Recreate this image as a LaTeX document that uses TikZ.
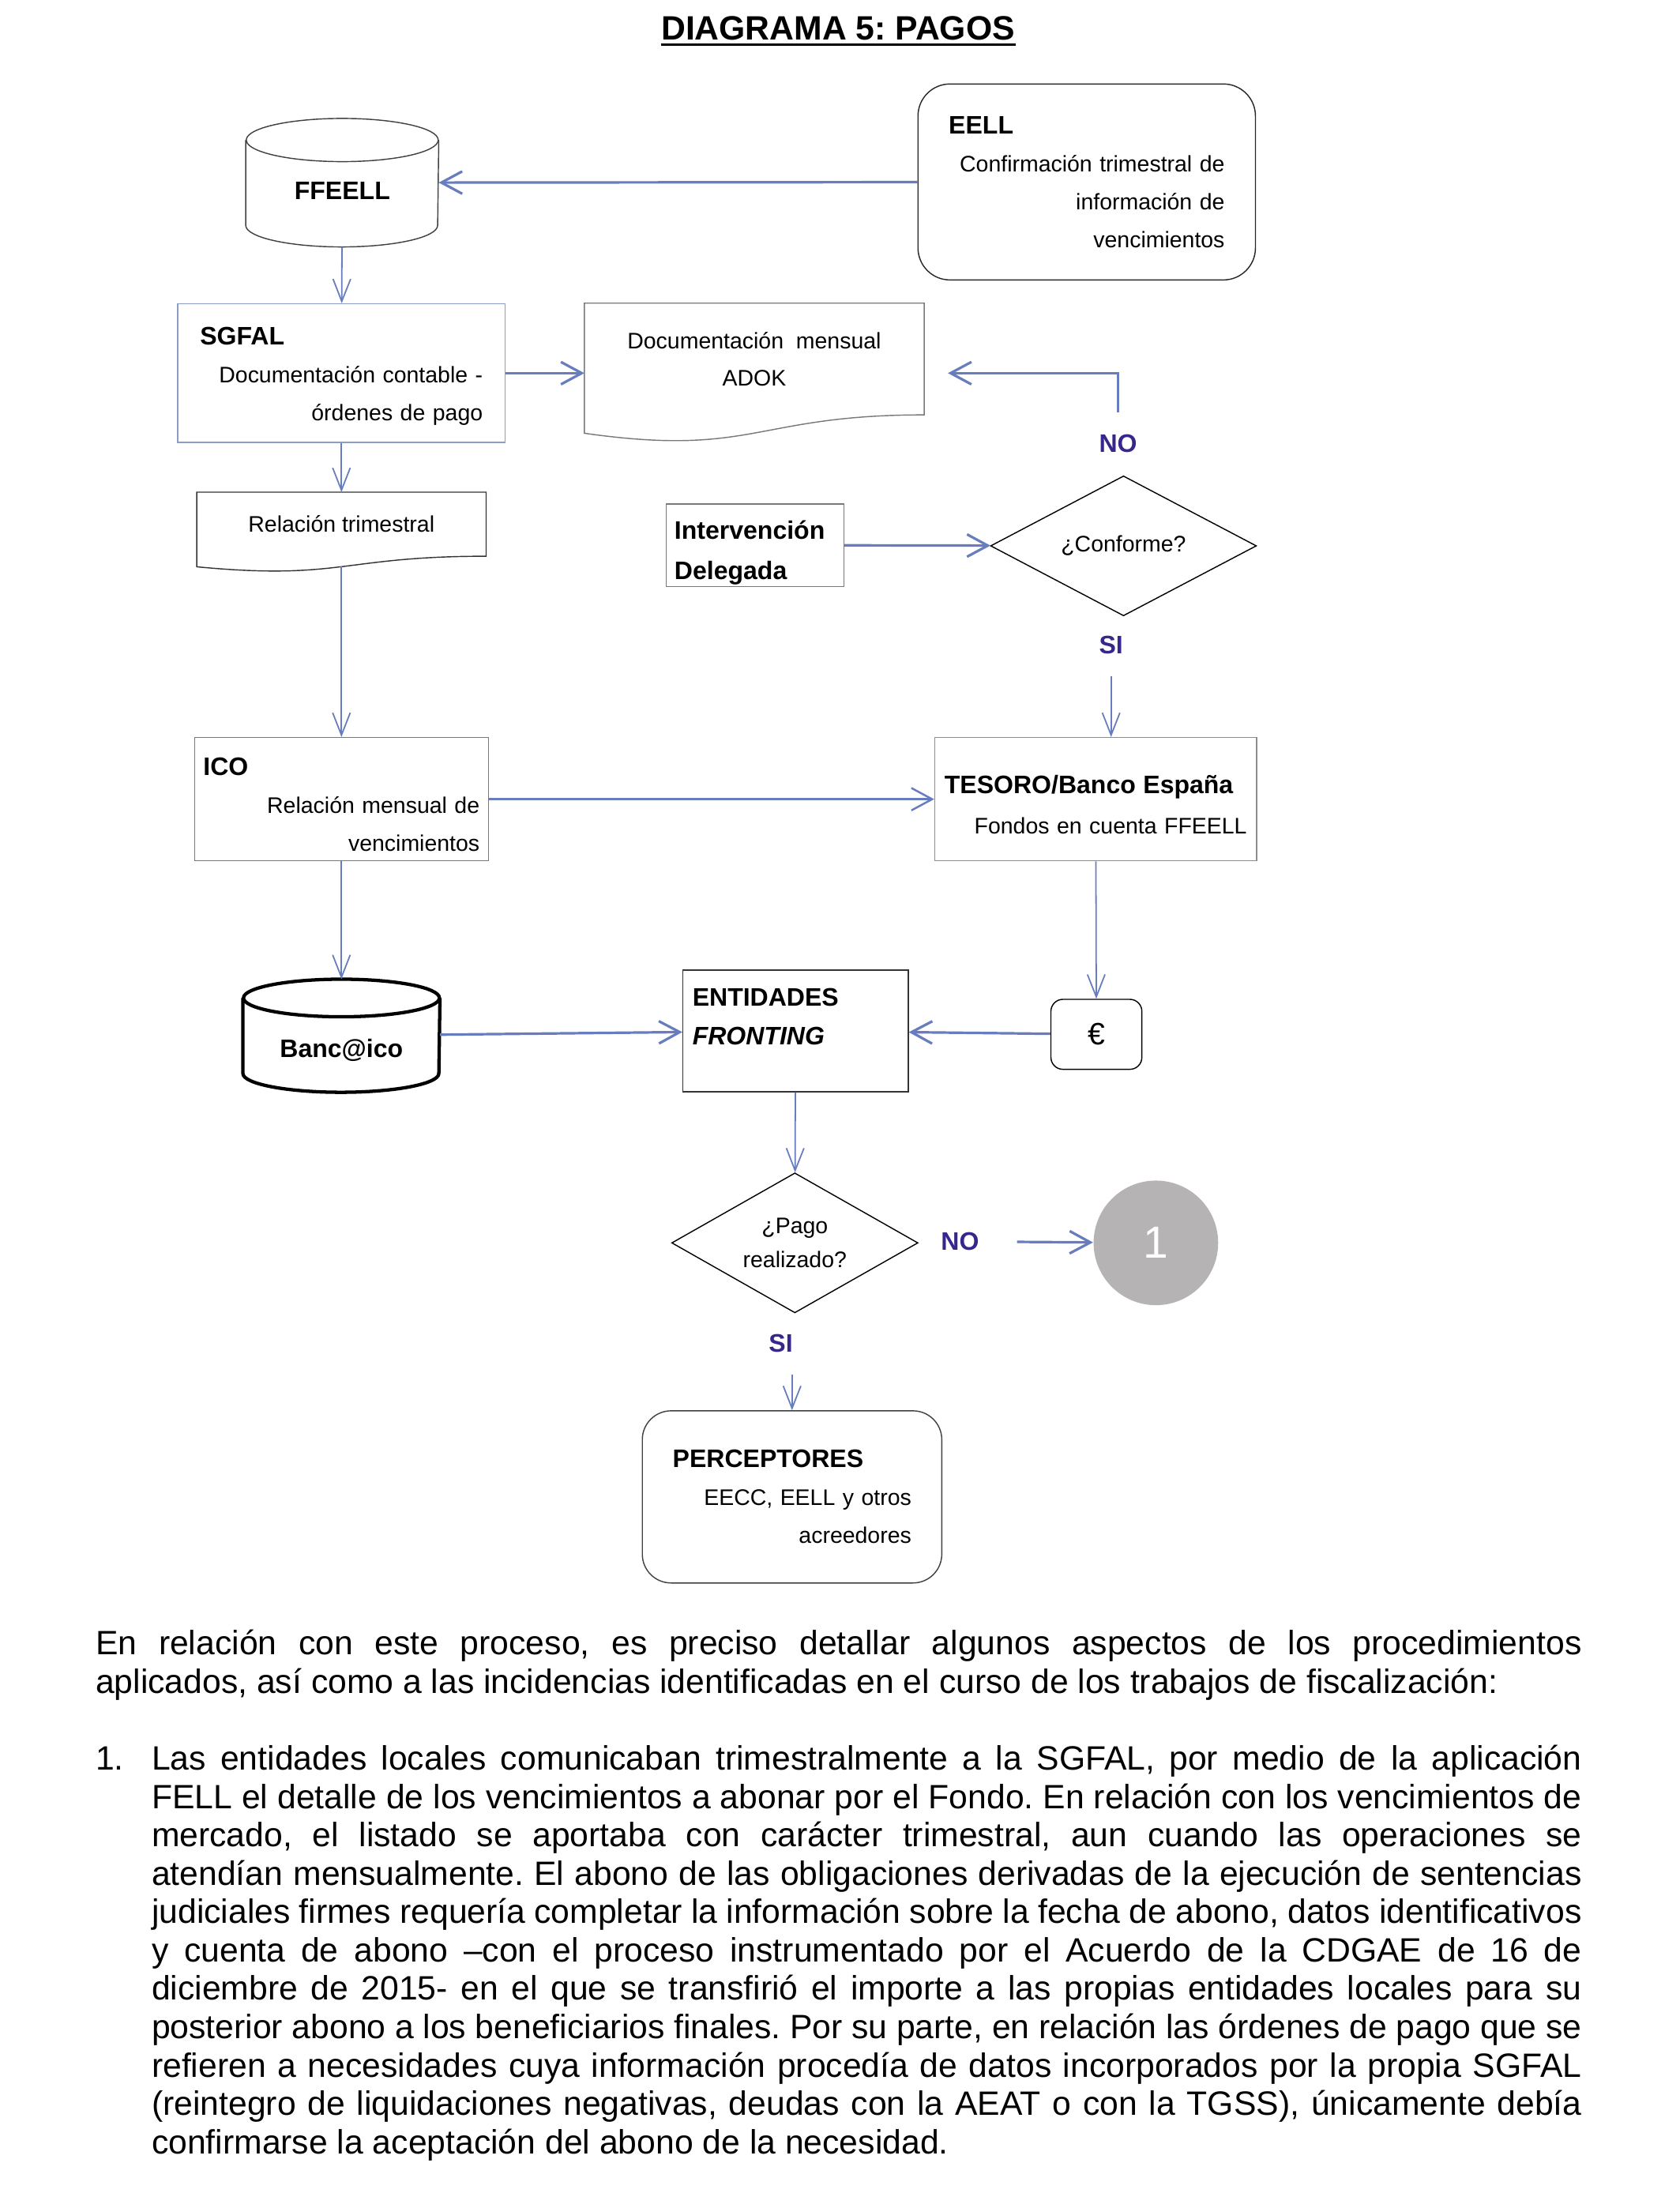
\documentclass[tikz,border=0pt]{standalone}
\usepackage{fontspec}
\setmainfont{Liberation Sans}
\usetikzlibrary{shapes.geometric, arrows.meta, positioning, calc}
\frenchspacing
\definecolor{pagoblue}{RGB}{104, 125, 190}
\definecolor{pagonavy}{RGB}{55, 38, 140}
\definecolor{pagogray}{RGB}{181, 179, 180}
\definecolor{sgfalline}{RGB}{140, 155, 200}
\definecolor{boxgray}{RGB}{120, 120, 120}
\newcommand{\boxfont}{\fontsize{8pt}{13.5pt}\selectfont}
\newcommand{\headfont}{\fontsize{9pt}{13.5pt}\selectfont\bfseries}
\newcommand{\bodyfont}{\fontsize{12pt}{13.65pt}\selectfont}
\newcommand{\topgap}[1]{\rule{0pt}{#1}}
\tikzstyle{flowbox} = [rectangle, draw=boxgray, line width=0.4pt, inner ysep=0pt, font=\boxfont]
\tikzstyle{roundbox} = [flowbox, draw=black!85, rounded corners=0.4cm]
\tikzstyle{decision} = [diamond, draw=black, line width=0.4pt, inner sep=0pt, font=\boxfont, align=center]
\tikzstyle{flag} = [font=\headfont, text=pagonavy, inner sep=0.27cm]
\tikzstyle{flowarrow} = [line width=0.9pt, pagoblue, -{Straight Barb[length=2.6mm,width=2.8mm]}]
\tikzstyle{thinarrow} = [line width=0.5pt, pagoblue, -{Straight Barb[length=2.8mm,width=2.2mm]}]
% document shape: wavy bottom below the node's rectangle
\newcommand{\docshape}[2][]{%
  \draw[#1] (#2.north west) -- (#2.north east) -- (#2.south east)
    .. controls (#2.south) and ($(#2.south)!-0.38!(#2.north)$)
    .. ($(#2.south west)!-0.1646!(#2.north west)$) -- cycle;}
% drum: cylinder round a node, x radius #3, y radius #4
\newcommand{\drum}[4][]{%
  \draw[#1] ([yshift=-#4]#2.north west) -- ([yshift=#4]#2.south west)
    arc[start angle=180, end angle=360, x radius=#3, y radius=#4]
    -- ([yshift=-#4]#2.north east);
  \draw[#1] ([yshift=-#4]#2.north) ellipse [x radius=#3, y radius=#4];}

\begin{document}
\begin{tikzpicture}
\fill[white] (0,0) rectangle (21,-27.42);
\useasboundingbox (0,0) rectangle (21,-27.42);

% Title
\node[font=\fontsize{12pt}{14pt}\selectfont\bfseries, anchor=base, inner sep=0pt] (title) at (10.48,-0.50) {DIAGRAMA 5: PAGOS};
\draw[line width=0.9pt] ([yshift=-0.06cm]title.base west) -- ([yshift=-0.06cm]title.base east);

% Top row
\node[font=\headfont, minimum width=2.40cm, minimum height=1.5925cm, text height=0.42cm, text depth=0pt] (ffeell) at (4.28,-2.284) {FFEELL};
\drum[black!75, line width=0.4pt]{ffeell}{1.2cm}{0.27cm}

\node[roundbox, minimum width=4.22cm, minimum height=2.45cm, inner xsep=0.385cm, text width=3.45cm, align=right] (eell) at (13.59,-2.275) {
    \makebox[\linewidth][l]{\headfont EELL}\\
    Confirmación trimestral de\\
    información de\\
    vencimientos
};

% SGFAL and documents
\node[flowbox, draw=sgfalline, minimum width=4.095cm, minimum height=1.7325cm, inner xsep=0.28cm, text width=3.535cm, align=right] (sgfal) at (4.27,-4.6655) {
    \makebox[\linewidth][l]{\headfont\topgap{0.30cm}SGFAL}\\
    Documentación contable -\\
    órdenes de pago
};

\node[font=\fontsize{8pt}{13.3pt}\selectfont, minimum width=4.235cm, minimum height=1.3825cm, align=center] (adok) at (9.4325,-4.489) {
    Documentación~~mensual\\
    ADOK
};
\docshape[boxgray, line width=0.4pt]{adok}

\node[font=\boxfont, minimum width=3.605cm, minimum height=0.7875cm] (rel) at (4.27,-6.554) {Relación trimestral};
\docshape[black!80, line width=0.4pt]{rel}

% Intervention and check
\node[flowbox, minimum width=2.2225cm, minimum height=1.0325cm, inner xsep=0.105cm, text width=2.0125cm, align=left, font=\fontsize{9pt}{14.3pt}\selectfont\bfseries] (interv) at (9.441,-6.816) {
    \topgap{0.43cm}Intervención\\
    Delegada
};

\node[decision, aspect=1.9, minimum width=3.325cm, minimum height=1.75cm] (conforme) at (14.05,-6.825) {¿Conforme?};
\node[flag] (no1) at (13.9825,-5.5475) {NO};
\node[flag] (si1) at (13.895,-8.0675) {SI};

% ICO and Tesoro
\node[flowbox, minimum width=3.675cm, minimum height=1.54cm, inner xsep=0.11cm, text width=3.455cm, align=right] (ico) at (4.27,-9.9925) {
    \makebox[\linewidth][l]{\headfont\topgap{0.35cm}ICO}\\
    Relación mensual de\\
    vencimientos
};

\node[flowbox, draw=black!45, minimum width=4.025cm, minimum height=1.54cm, inner xsep=0.1225cm, text width=3.78cm, align=right, font=\fontsize{8pt}{14.3pt}\selectfont] (tesoro) at (13.7025,-9.9925) {
    \makebox[\linewidth][l]{\headfont\topgap{0.36cm}TESORO/Banco España}\\
    Fondos en cuenta FFEELL
};

% Payment row
\node[font=\headfont, minimum width=2.45cm, minimum height=1.40cm, text height=0.54cm, text depth=0pt] (bancoico) at (4.27,-12.95) {Banc@ico};
\drum[black, line width=1.2pt]{bancoico}{1.225cm}{0.235cm}

\node[flowbox, draw=black!80, minimum width=2.8175cm, minimum height=1.5225cm] (fronting) at (9.949,-12.889) {};
\node[font=\fontsize{9pt}{13.75pt}\selectfont\bfseries, anchor=north west, inner sep=0pt, align=left] (frontingtxt) at ([xshift=0.12cm,yshift=-0.23cm]fronting.north west) {
    ENTIDADES\\
    \textit{FRONTING}
};

\node[roundbox, draw=black, rounded corners=0.15cm, minimum width=1.1375cm, minimum height=0.875cm, font=\fontsize{11pt}{13pt}\selectfont] (euro) at (13.711,-12.9325) {€};

% Outcome
\node[decision, aspect=1.76, minimum width=3.08cm, minimum height=1.75cm, font=\fontsize{8pt}{12.3pt}\selectfont] (pago) at (9.94,-15.54) {¿Pago\\realizado?};
\node[flag] (no2) at (12.005,-15.5225) {NO};
\node[circle, fill=pagogray, minimum size=1.5575cm, inner sep=0pt, text=white, font=\fontsize{16pt}{18pt}\selectfont] (uno) at (14.455,-15.54) {1};
\node[flag] (si2) at (9.765,-16.80) {SI};

\node[roundbox, draw=black!75, rounded corners=0.36cm, minimum width=3.745cm, minimum height=2.1525cm, inner xsep=0.38cm, text width=2.985cm, align=right] (percep) at (9.905,-18.716) {
    \makebox[\linewidth][l]{\headfont PERCEPTORES}\\
    EECC, EELL y otros\\
    acreedores
};

% Arrows
\coordinate (noend) at ($(adok.east |- sgfal.east)+(0.2975,0)$);
\draw[flowarrow] (eell) -- (ffeell);
\draw[thinarrow] (ffeell) -- (sgfal);
\draw[flowarrow] (sgfal.east) -- (sgfal.east -| adok.west);
\draw[flowarrow] (no1.north) |- (noend);
\draw[thinarrow] (sgfal) -- (rel);
\draw[flowarrow] (interv) -- (conforme);
\draw[thinarrow] (si1.south) -- (si1.south |- tesoro.north);
\draw[thinarrow] ($(rel.south)!-0.163!(rel.north)$) -- (ico.north);
\draw[line width=0.7pt, pagoblue, -{Straight Barb[length=2.6mm,width=2.8mm]}] (ico) -- (tesoro);
\draw[thinarrow] (ico) -- (bancoico);
\draw[thinarrow] (tesoro) -- (euro);
\draw[flowarrow] (bancoico) -- (fronting);
\draw[flowarrow] (euro) -- (fronting);
\draw[thinarrow] (fronting) -- (pago);
\draw[flowarrow, shorten <=0.2cm] (no2) -- (uno);
\draw[thinarrow] (si2.south -| percep.north) -- (percep.north);

% Text below the diagram
\node[anchor=base west, inner sep=0pt, text width=18.585cm, align=justify, font=\bodyfont] (intro) at (1.19,-20.69) {En relación con este proceso, es preciso detallar algunos aspectos de los procedimientos\linebreak aplicados, así como a las incidencias identificadas en el curso de los trabajos de fiscalización:};

\node[anchor=base west, inner sep=0pt, font=\bodyfont] (itemnum) at (1.19,-22.13) {1.};
\node[anchor=base west, inner sep=0pt, text width=17.885cm, align=justify, font=\bodyfont] (itemtext) at (1.89,-22.13) {Las entidades locales comunicaban trimestralmente a la SGFAL, por medio de la aplicación\linebreak
FELL el detalle de los vencimientos a abonar por el Fondo. En relación con los vencimientos de\linebreak
mercado, el listado se aportaba con carácter trimestral, aun cuando las operaciones se\linebreak
atendían mensualmente. El abono de las obligaciones derivadas de la ejecución de sentencias\linebreak
judiciales firmes requería completar la información sobre la fecha de abono, datos identificativos\linebreak
y cuenta de abono –con el proceso instrumentado por el Acuerdo de la CDGAE de 16 de\linebreak
diciembre de 2015- en el que se transfirió el importe a las propias entidades locales para su\linebreak
posterior abono a los beneficiarios finales. Por su parte, en relación las órdenes de pago que se\linebreak
refieren a necesidades cuya información procedía de datos incorporados por la propia SGFAL\linebreak
(reintegro de liquidaciones negativas, deudas con la AEAT o con la TGSS), únicamente debía\linebreak
confirmarse la aceptación del abono de la necesidad.};
\end{tikzpicture}
\end{document}
